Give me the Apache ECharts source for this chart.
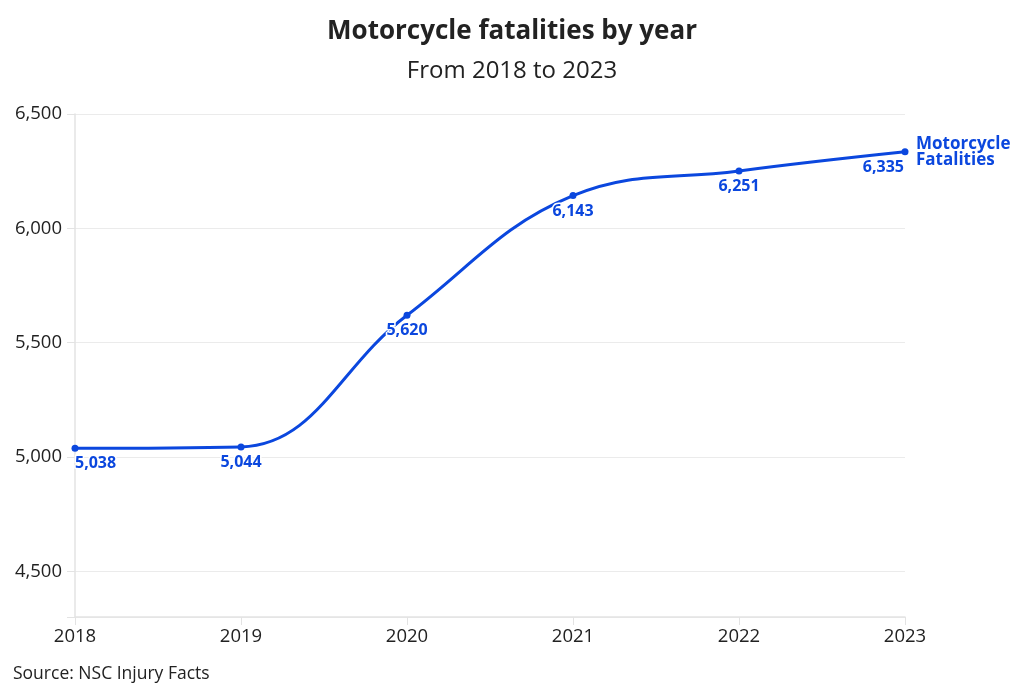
<!DOCTYPE html>
<html>
<head>
<meta charset="utf-8">
<script src="https://cdn.jsdelivr.net/npm/echarts@6/dist/echarts.min.js"></script>
<style>
  html, body { margin: 0; padding: 0; background: #fff; }
  #chart { width: 1024px; height: 700px; }
</style>
</head>
<body>
<div id="chart"></div>
<script>
// data
const years = ['2018', '2019', '2020', '2021', '2022', '2023'];
const fatalities = [5038, 5044, 5620, 6143, 6251, 6335];

const blue = '#0b47de';
const font = '"Open Sans", sans-serif';
const last = fatalities.length - 1;

const seriesData = fatalities.map(function (v, i) {
    let item = { value: v };
    if (i === 0) item.label = { align: 'left', offset: [0, 0] };
    if (i === last) item.label = { align: 'right', offset: [-1, 0] };
    return item;
});

const myChart = echarts.init(document.getElementById('chart'));

myChart.setOption({
    animation: false,
    textStyle: { fontFamily: font },
    title: {
        text: 'Motorcycle fatalities by year',
        subtext: 'From 2018 to 2023',
        left: 'center',
        top: 14,
        itemGap: 14,
        textStyle: { fontSize: 26, fontWeight: 'bold', color: '#222', fontFamily: font },
        subtextStyle: { fontSize: 24, color: '#222', fontFamily: font }
    },
    grid: { left: 75, right: 119, top: 114, bottom: 83 },
    xAxis: {
        type: 'category',
        data: years,
        boundaryGap: false,
        axisLine: { lineStyle: { color: '#e3e3e3', width: 1.5 } },
        axisTick: { show: true, length: 8, lineStyle: { color: '#e3e3e3' } },
        axisLabel: { fontSize: 18.5, color: '#222', margin: 10, fontFamily: font }
    },
    yAxis: {
        type: 'value',
        min: 4300,
        max: 6500,
        splitNumber: 4,
        axisLine: { show: true, lineStyle: { color: '#e3e3e3', width: 1.5 } },
        axisTick: { show: true, length: 8, lineStyle: { color: '#e3e3e3' } },
        splitLine: { lineStyle: { color: '#ebebeb' } },
        axisLabel: {
            fontSize: 18.5,
            color: '#222',
            margin: 13,
            fontFamily: font,
            formatter: function (v) {
                return v % 500 === 0 ? v.toLocaleString('en-US') : '';
            }
        }
    },
    graphic: [{
        type: 'text',
        left: 13,
        top: 665,
        style: { text: 'Source: NSC Injury Facts', fontSize: 17.5, fill: '#222', fontFamily: font }
    }],
    series: [{
        type: 'line',
        data: seriesData,
        smooth: 0.4,
        symbol: 'circle',
        symbolSize: 7,
        itemStyle: { color: blue },
        lineStyle: { color: blue, width: 3 },
        label: {
            show: true,
            position: 'bottom',
            distance: 4,
            color: blue,
            fontSize: 16,
            fontWeight: 'bold',
            fontFamily: font,
            textBorderColor: '#fff',
            textBorderWidth: 3,
            formatter: function (p) { return p.value.toLocaleString('en-US'); }
        },
        endLabel: {
            show: true,
            formatter: 'Motorcycle\nFatalities',
            color: blue,
            fontSize: 17,
            fontWeight: 'bold',
            lineHeight: 16,
            distance: 11,
            fontFamily: font
        }
    }]
});
</script>
</body>
</html>
